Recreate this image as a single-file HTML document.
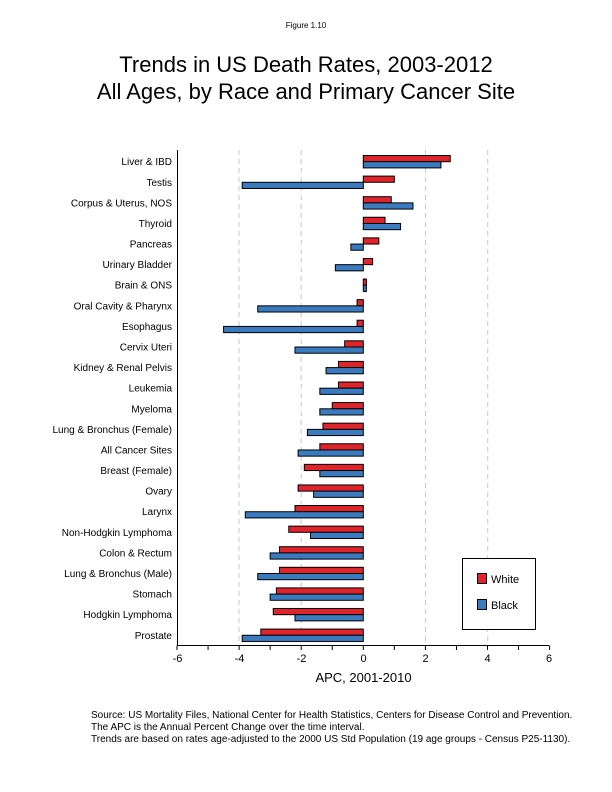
<!DOCTYPE html>
<html><head><meta charset="utf-8"><style>
body{margin:0;background:#fff;}
svg{display:block;font-family:"Liberation Sans",Arial,sans-serif;}
</style></head><body>
<svg width="612" height="792" viewBox="0 0 612 792" xmlns="http://www.w3.org/2000/svg">
<text x="306" y="28" font-size="8" text-anchor="middle">Figure 1.10</text>
<text x="306" y="72" font-size="22" text-anchor="middle">Trends in US Death Rates, 2003-2012</text>
<text x="306" y="99" font-size="22" text-anchor="middle">All Ages, by Race and Primary Cancer Site</text>
<g stroke="#c8c8c8" stroke-dasharray="5,4" stroke-width="1">
<line x1="239" y1="150" x2="239" y2="645"/><line x1="301.2" y1="150" x2="301.2" y2="645"/>
<line x1="425.5" y1="150" x2="425.5" y2="645"/><line x1="487.7" y1="150" x2="487.7" y2="645"/>
</g>
<g id="bars" stroke="#000" stroke-width="1"></g>
<g id="labels" font-size="10" text-anchor="end"></g>
<line x1="177.5" y1="150" x2="177.5" y2="645.5" stroke="#000"/>
<line x1="177.5" y1="645.5" x2="549" y2="645.5" stroke="#000"/>
<g stroke="#000" id="ticks"></g>
<g font-size="11" text-anchor="middle">
<text x="177.5" y="662">-6</text><text x="239.5" y="662">-4</text><text x="301.5" y="662">-2</text>
<text x="363.5" y="662">0</text><text x="425.5" y="662">2</text><text x="487.5" y="662">4</text><text x="549" y="662">6</text>
<text x="363.5" y="682" font-size="13">APC, 2001-2010</text>
</g>
<rect x="462.5" y="558.5" width="73" height="71" fill="#fff" stroke="#000"/>
<rect x="477.5" y="573.5" width="9" height="10" fill="#e0242b" stroke="#000"/>
<rect x="477.5" y="599.5" width="9" height="10" fill="#3a7abf" stroke="#000"/>
<text x="491" y="583" font-size="11">White</text>
<text x="491" y="609" font-size="11">Black</text>
<g font-size="10">
<text x="91" y="718">Source: US Mortality Files, National Center for Health Statistics, Centers for Disease Control and Prevention.</text>
<text x="91" y="730">The APC is the Annual Percent Change over the time interval.</text>
<text x="91" y="742">Trends are based on rates age-adjusted to the 2000 US Std Population (19 age groups - Census P25-1130).</text>
</g>
<script>
var d=[["Liver & IBD",2.8,2.5],["Testis",1.0,-3.9],["Corpus & Uterus, NOS",0.9,1.6],["Thyroid",0.7,1.2],["Pancreas",0.5,-0.4],["Urinary Bladder",0.3,-0.9],["Brain & ONS",0.1,0.1],["Oral Cavity & Pharynx",-0.2,-3.4],["Esophagus",-0.2,-4.5],["Cervix Uteri",-0.6,-2.2],["Kidney & Renal Pelvis",-0.8,-1.2],["Leukemia",-0.8,-1.4],["Myeloma",-1.0,-1.4],["Lung & Bronchus (Female)",-1.3,-1.8],["All Cancer Sites",-1.4,-2.1],["Breast (Female)",-1.9,-1.4],["Ovary",-2.1,-1.6],["Larynx",-2.2,-3.8],["Non-Hodgkin Lymphoma",-2.4,-1.7],["Colon & Rectum",-2.7,-3.0],["Lung & Bronchus (Male)",-2.7,-3.4],["Stomach",-2.8,-3.0],["Hodgkin Lymphoma",-2.9,-2.2],["Prostate",-3.3,-3.9]];
var ns="http://www.w3.org/2000/svg",b=document.getElementById("bars"),l=document.getElementById("labels");
function X(v){return 363.3+v*31.05;}
function r(x1,x2,y,c){var e=document.createElementNS(ns,"rect");var a=Math.min(x1,x2);e.setAttribute("x",a);e.setAttribute("y",y);e.setAttribute("width",Math.abs(x2-x1));e.setAttribute("height",6.2);e.setAttribute("fill",c);b.appendChild(e);}
d.forEach(function(o,i){var c=161.7+i*20.59;r(X(0),X(o[1]),c-6.2,"#e0242b");r(X(0),X(o[2]),c,"#3a7abf");
var t=document.createElementNS(ns,"text");t.setAttribute("x",172);t.setAttribute("y",c+3.5);t.textContent=o[0];l.appendChild(t);});
var tk=document.getElementById("ticks");for(var v=-6;v<=6;v++){var e=document.createElementNS(ns,"line");e.setAttribute("x1",X(v));e.setAttribute("x2",X(v));e.setAttribute("y1",645.5);e.setAttribute("y2",650);tk.appendChild(e);}
</script>
</svg>
</body></html>
